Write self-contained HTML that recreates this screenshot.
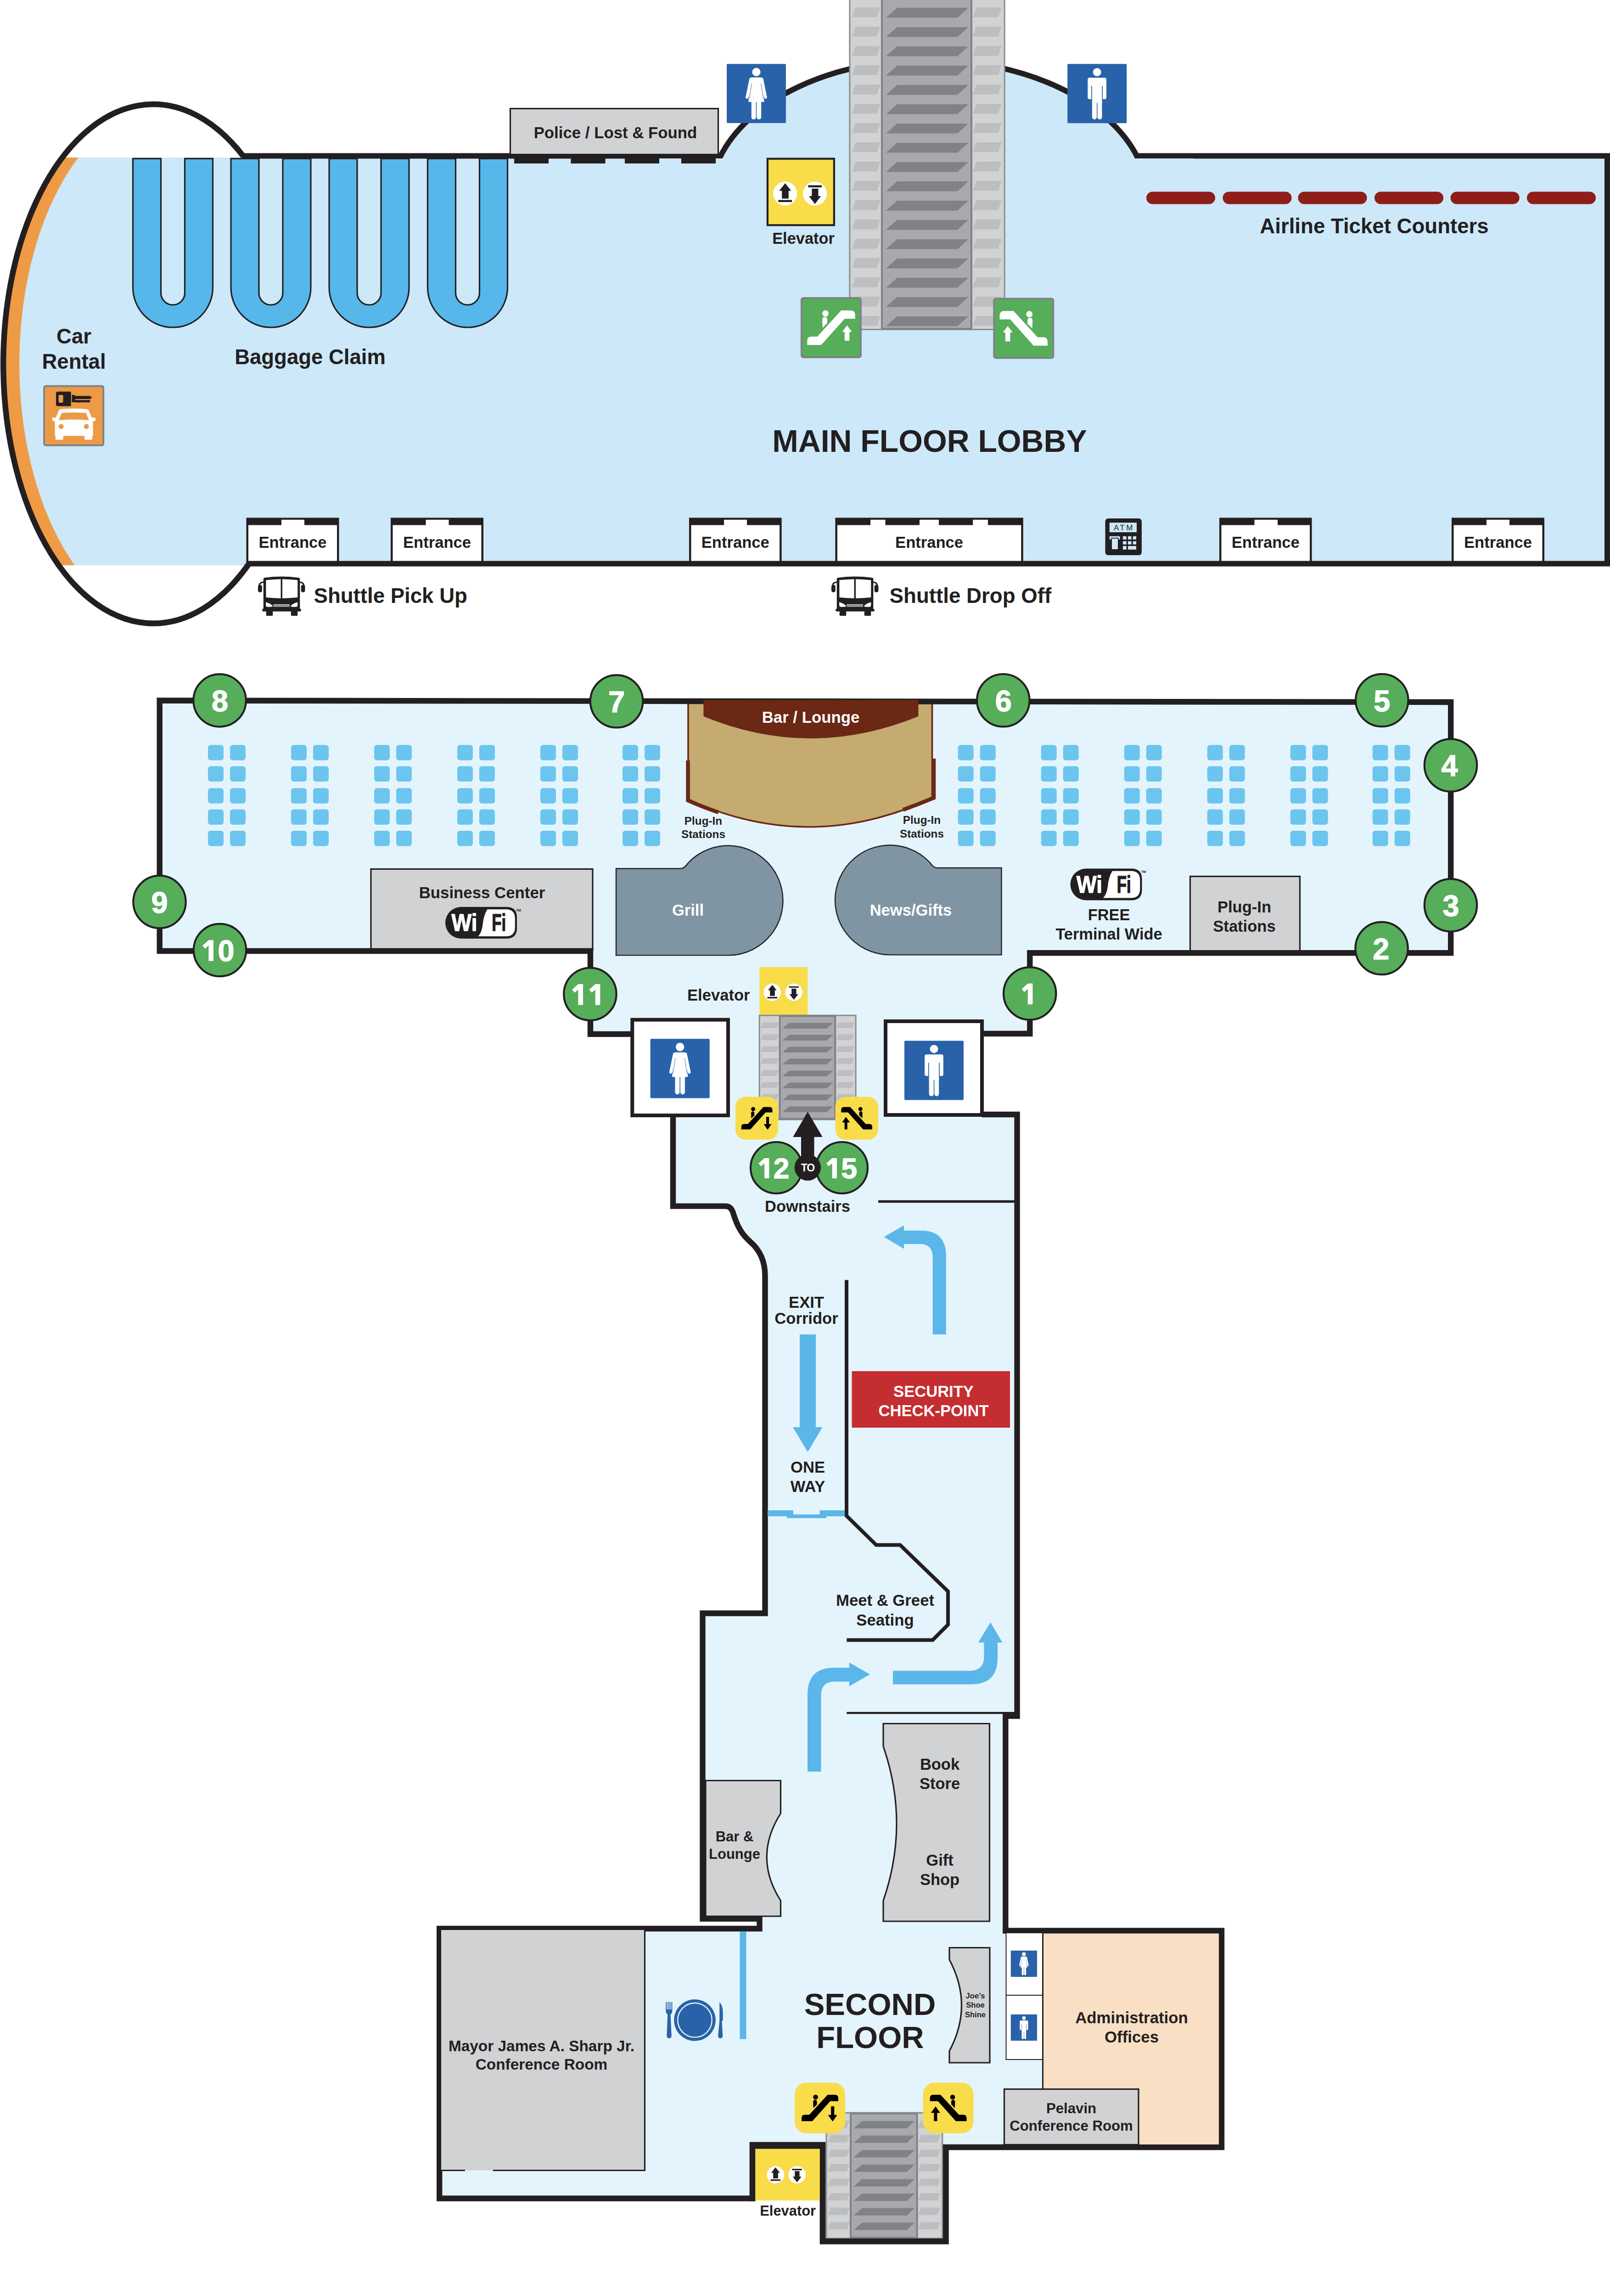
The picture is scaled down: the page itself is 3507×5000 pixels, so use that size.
<!DOCTYPE html>
<html><head><meta charset="utf-8"><title>Terminal Map</title>
<style>
html,body{margin:0;padding:0;background:#fff;}
body{width:3507px;height:5000px;overflow:hidden;}
svg{display:block;}
text{font-family:"Liberation Sans",sans-serif;font-weight:bold;}
</style></head><body>
<svg width="3507" height="5000" viewBox="0 0 3507 5000">
<defs>
<g id="woman">
<rect width="100" height="100" rx="1.6" fill="#2962a8"/>
<circle cx="50" cy="13.7" r="7.1" fill="#fff"/>
<path d="M43,22.8 H57 Q59.6,22.8 60.2,25.2 L63.3,64.2 H36.7 L39.8,25.2 Q40.4,22.8 43,22.8Z" fill="#fff"/>
<path d="M40.6,25.6 L34.3,56.4 M59.4,25.6 L65.7,56.4" stroke="#fff" stroke-width="4.7" stroke-linecap="round" fill="none"/>
<path d="M42.1,33 L38.2,58.5 M57.9,33 L61.8,58.5" stroke="#2962a8" stroke-width="0.7" fill="none"/>
<rect x="41.7" y="60" width="7.7" height="33.8" rx="3.8" fill="#fff"/>
<rect x="50.6" y="60" width="7.7" height="33.8" rx="3.8" fill="#fff"/>
<rect x="41.7" y="60" width="16.6" height="4.2" fill="#fff"/>
</g>
<g id="man">
<rect width="100" height="100" rx="1.6" fill="#2962a8"/>
<circle cx="50" cy="13.9" r="6.9" fill="#fff"/>
<rect x="34.2" y="23.2" width="31.6" height="36.4" rx="3.1" fill="#fff"/>
<rect x="41.6" y="50" width="16.7" height="16" fill="#fff"/>
<rect x="40.3" y="37.1" width="1.3" height="23.5" fill="#2962a8"/>
<rect x="58.3" y="37.1" width="1.3" height="23.5" fill="#2962a8"/>
<rect x="41.6" y="58" width="7.9" height="35.7" rx="3.9" fill="#fff"/>
<rect x="50.7" y="58" width="7.6" height="35.7" rx="3.8" fill="#fff"/>
</g>
<g id="escglyph"><path d="M66.5,21.7 H82 Q89.3,21.7 89.3,29 V35.4 H72.1 L33.8,78.3 H10.8 V71.5 Q10.8,64.5 18,64.5 H27.3 Z"/><circle cx="40.7" cy="26.8" r="5.2"/><path d="M35.5,37 Q35.5,32.7 39.6,32.7 Q43.7,32.7 43.7,37 V42.5 L35.9,50.3 Z"/></g>
<path id="arrUpG" d="M76.1,46.2 L84.1,56.8 H80 V71.4 H72.1 V56.8 H68 Z"/>
<path id="arrDnY" d="M72,46.8 H78.4 V63.8 H84.3 L75.2,76.9 L66,63.8 H72 Z"/>
<path id="arrUpY" d="M75.2,46.8 L84.3,59.7 H78.4 V76.2 H72 V59.7 H66 Z"/>
<g id="escGreenL"><rect x="1.5" y="1.5" width="97" height="97" rx="3" fill="#56ad5a" stroke="#808285" stroke-width="3"/>
<g fill="#fff"><use href="#escglyph"/><use href="#arrUpG"/></g></g>
<g id="escGreenR"><rect x="1.5" y="1.5" width="97" height="97" rx="3" fill="#56ad5a" stroke="#808285" stroke-width="3"/>
<g fill="#fff" transform="translate(100,0) scale(-1,1)"><use href="#escglyph"/><use href="#arrUpG"/></g></g>
<g id="escYelDn"><rect width="100" height="100" rx="23" fill="#f8dc4a"/>
<g fill="#000"><use href="#escglyph" transform="translate(50,50) scale(0.925) translate(-50,-50)"/><use href="#arrDnY"/></g></g>
<g id="escYelUp"><rect width="100" height="100" rx="23" fill="#f8dc4a"/>
<g fill="#000" transform="translate(100,0) scale(-1,1)"><use href="#escglyph" transform="translate(50,50) scale(0.925) translate(-50,-50)"/><use href="#arrUpY"/></g></g>
<g id="elevArrows">
<circle cx="-32.5" cy="0" r="26" fill="#fff"/><circle cx="32.5" cy="0" r="26" fill="#fff"/>
<path d="M-32.3,-22.5 L-19.2,-6 H-24.8 V11 H-39.4 V-6 H-45.4 Z M-47.3,14 H-17.5 V18.4 H-47.3 Z" fill="#231f20"/>
<path d="M17.8,-18 H47.3 V-13.6 H17.8 Z M25.7,-10.9 H39.9 V5.5 H45.8 L32.5,22.7 L19.4,5.5 H25.7 Z" fill="#231f20"/>
</g>
<g id="bus">
<path d="M11.8,5.5 Q11.8,3.2 15,2.7 Q51.5,-2.2 88,2.7 Q91.3,3.2 91.3,5.5 V70 Q94,71 94,73.5 Q94,76.3 90.5,76.3 H12.5 Q9,76.3 9,73.5 Q9,71 11.8,70 Z" fill="#231f20"/>
<path d="M17.4,8 Q33,6.3 49.6,5.9 V47.6 Q33,47.3 17.4,45.6 Z M53,5.9 Q70,6.3 86.3,8 V45.6 Q70,47.3 53,47.6 Z" fill="#fff"/>
<rect x="17.8" y="74" width="14.4" height="11.6" rx="1.5" fill="#231f20"/>
<rect x="71.8" y="74" width="14.4" height="11.6" rx="1.5" fill="#231f20"/>
<path d="M17,57.5 Q16.5,62 18,66 Q25,66.8 31.5,65.8 Q32.5,64.5 31,63 Q25,58 17,56.2 Z" fill="#fff"/>
<path d="M86.3,57.5 Q86.8,62 85.3,66 Q78.3,66.8 71.8,65.8 Q70.8,64.5 72.3,63 Q78.3,58 86.3,56.2 Z" fill="#fff"/>
<path d="M33.3,61.3 H69 M33.3,63.4 H69 M33.3,65.5 H69" stroke="#fff" stroke-width="1.1"/>
<path d="M12,12.5 Q2.5,13 2.3,22" stroke="#231f20" stroke-width="3" fill="none"/>
<rect x="0" y="18.4" width="8.8" height="16" rx="4" fill="#231f20"/>
<path d="M91,12.5 Q100,13 100.2,22" stroke="#231f20" stroke-width="3" fill="none"/>
<rect x="93.7" y="18.4" width="8.8" height="16" rx="4" fill="#231f20"/>
</g>
<g id="wifi">
<path d="M34.5,0 H133 Q156,0 156,23 V46 Q156,69 133,69 H34.5 A34.5,34.5 0 0 1 34.5,0 Z" fill="#231f20"/>
<path d="M91.5,5.2 H132 Q151.8,5.2 151.8,25 V44.3 Q151.8,64.1 132,64.1 H71.5 Q79.5,55 81.3,40 Q83.3,18 91.5,5.2 Z" fill="#fff"/>
<text x="13.6" y="52.2" font-size="52" fill="#fff" stroke="#fff" stroke-width="1.6" stroke-linejoin="round" text-anchor="start" textLength="56" lengthAdjust="spacingAndGlyphs">Wi</text>
<text x="101.3" y="52.2" font-size="52" fill="#231f20" stroke="#231f20" stroke-width="1.6" stroke-linejoin="round" text-anchor="start" textLength="31" lengthAdjust="spacingAndGlyphs">Fi</text>
<text x="154" y="9.5" font-size="7.5" fill="#231f20" text-anchor="start">TM</text>
</g>
</defs>
<clipPath id="wallclip"><path d="M0,0 H3507 V1300 H0 Z M1400,345 V400 H2600 V345 Z" clip-rule="evenodd"/></clipPath>
<clipPath id="band"><rect x="0" y="343" width="700" height="888"/></clipPath>
<g clip-path="url(#band)"><ellipse cx="333.8" cy="792.5" rx="326.7" ry="565.2" fill="#ef9b45"/><ellipse cx="368.8" cy="792.5" rx="326.7" ry="565.2" fill="#cce8f9"/></g>
<rect x="368.8" y="343" width="3132.2" height="884.5" fill="#cce8f9"/>
<path d="M1568,343 A472.5,302.7 0 0 1 2019,130.3 A480.7,302.7 0 0 1 2478,343 Z" fill="#cce8f9"/>
<path d="M289.5,345.3 V626 A87,87 0 0 0 463.5,626 V345.3 H402.5 V638 A26,26 0 0 1 350.5,638 V345.3 Z" fill="#55b7ea" stroke="#231f20" stroke-width="3.2"/>
<path d="M503,345.3 V626 A87,87 0 0 0 677,626 V345.3 H616 V638 A26,26 0 0 1 564,638 V345.3 Z" fill="#55b7ea" stroke="#231f20" stroke-width="3.2"/>
<path d="M717,345.3 V626 A87,87 0 0 0 891,626 V345.3 H830 V638 A26,26 0 0 1 778,638 V345.3 Z" fill="#55b7ea" stroke="#231f20" stroke-width="3.2"/>
<path d="M931.5,345.3 V626 A87,87 0 0 0 1105.5,626 V345.3 H1044.5 V638 A26,26 0 0 1 992.5,638 V345.3 Z" fill="#55b7ea" stroke="#231f20" stroke-width="3.2"/>
<path d="M529.5,339.6 A326.7,565.2 0 1 0 542.4,1227.5" fill="none" stroke="#231f20" stroke-width="12.5"/>
<path d="M526,339.6 H1569 M1563,353 L1568,343 A472.5,302.7 0 0 1 2019,130.3 A480.7,302.7 0 0 1 2478,343 L2483,353 M2475,339.6 H3501 V1227.5 H540" fill="none" stroke="#231f20" stroke-width="12" stroke-linejoin="miter" clip-path="url(#wallclip)"/>
<rect x="1111.5" y="236.5" width="453" height="100" fill="#d1d2d4" stroke="#231f20" stroke-width="3.2"/>
<rect x="1120" y="344" width="75" height="12" fill="#231f20"/>
<rect x="1243.5" y="344" width="75" height="12" fill="#231f20"/>
<rect x="1361" y="344" width="75" height="12" fill="#231f20"/>
<rect x="1484" y="344" width="75" height="12" fill="#231f20"/>
<text x="1340.5" y="300.5" font-size="34.8" fill="#231f20" text-anchor="middle" >Police / Lost &amp; Found</text>
<rect x="1850.9" y="-6" width="337.2999999999997" height="723.5" fill="#d1d2d4" stroke="#8a8c8e" stroke-width="3"/>
<rect x="1921" y="-4.5" width="195" height="720.5" fill="#a7a9ac" stroke="#808285" stroke-width="4"/>
<path d="M1929.8,38.4 L1954.2,17.0 H2109.2 L2085.8,38.4 Z" fill="#808285"/>
<path d="M1855.5,37.4 L1863.7,16.0 H1917.8 L1910.3,37.4 Z" fill="#bcbec0"/>
<path d="M2118.9,37.4 L2126.7,16.0 H2181.8 L2174.3,37.4 Z" fill="#bcbec0"/>
<path d="M1929.8,80.4 L1954.2,59.0 H2109.2 L2085.8,80.4 Z" fill="#808285"/>
<path d="M1855.5,79.4 L1863.7,58.0 H1917.8 L1910.3,79.4 Z" fill="#bcbec0"/>
<path d="M2118.9,79.4 L2126.7,58.0 H2181.8 L2174.3,79.4 Z" fill="#bcbec0"/>
<path d="M1929.8,122.4 L1954.2,101.0 H2109.2 L2085.8,122.4 Z" fill="#808285"/>
<path d="M1855.5,121.4 L1863.7,100.0 H1917.8 L1910.3,121.4 Z" fill="#bcbec0"/>
<path d="M2118.9,121.4 L2126.7,100.0 H2181.8 L2174.3,121.4 Z" fill="#bcbec0"/>
<path d="M1929.8,164.4 L1954.2,143.0 H2109.2 L2085.8,164.4 Z" fill="#808285"/>
<path d="M1855.5,163.4 L1863.7,142.0 H1917.8 L1910.3,163.4 Z" fill="#bcbec0"/>
<path d="M2118.9,163.4 L2126.7,142.0 H2181.8 L2174.3,163.4 Z" fill="#bcbec0"/>
<path d="M1929.8,206.4 L1954.2,185.0 H2109.2 L2085.8,206.4 Z" fill="#808285"/>
<path d="M1855.5,205.4 L1863.7,184.0 H1917.8 L1910.3,205.4 Z" fill="#bcbec0"/>
<path d="M2118.9,205.4 L2126.7,184.0 H2181.8 L2174.3,205.4 Z" fill="#bcbec0"/>
<path d="M1929.8,248.4 L1954.2,227.0 H2109.2 L2085.8,248.4 Z" fill="#808285"/>
<path d="M1855.5,247.4 L1863.7,226.0 H1917.8 L1910.3,247.4 Z" fill="#bcbec0"/>
<path d="M2118.9,247.4 L2126.7,226.0 H2181.8 L2174.3,247.4 Z" fill="#bcbec0"/>
<path d="M1929.8,290.4 L1954.2,269.0 H2109.2 L2085.8,290.4 Z" fill="#808285"/>
<path d="M1855.5,289.4 L1863.7,268.0 H1917.8 L1910.3,289.4 Z" fill="#bcbec0"/>
<path d="M2118.9,289.4 L2126.7,268.0 H2181.8 L2174.3,289.4 Z" fill="#bcbec0"/>
<path d="M1929.8,332.4 L1954.2,311.0 H2109.2 L2085.8,332.4 Z" fill="#808285"/>
<path d="M1855.5,331.4 L1863.7,310.0 H1917.8 L1910.3,331.4 Z" fill="#bcbec0"/>
<path d="M2118.9,331.4 L2126.7,310.0 H2181.8 L2174.3,331.4 Z" fill="#bcbec0"/>
<path d="M1929.8,374.4 L1954.2,353.0 H2109.2 L2085.8,374.4 Z" fill="#808285"/>
<path d="M1855.5,373.4 L1863.7,352.0 H1917.8 L1910.3,373.4 Z" fill="#bcbec0"/>
<path d="M2118.9,373.4 L2126.7,352.0 H2181.8 L2174.3,373.4 Z" fill="#bcbec0"/>
<path d="M1929.8,416.4 L1954.2,395.0 H2109.2 L2085.8,416.4 Z" fill="#808285"/>
<path d="M1855.5,415.4 L1863.7,394.0 H1917.8 L1910.3,415.4 Z" fill="#bcbec0"/>
<path d="M2118.9,415.4 L2126.7,394.0 H2181.8 L2174.3,415.4 Z" fill="#bcbec0"/>
<path d="M1929.8,458.4 L1954.2,437.0 H2109.2 L2085.8,458.4 Z" fill="#808285"/>
<path d="M1855.5,457.4 L1863.7,436.0 H1917.8 L1910.3,457.4 Z" fill="#bcbec0"/>
<path d="M2118.9,457.4 L2126.7,436.0 H2181.8 L2174.3,457.4 Z" fill="#bcbec0"/>
<path d="M1929.8,500.4 L1954.2,479.0 H2109.2 L2085.8,500.4 Z" fill="#808285"/>
<path d="M1855.5,499.4 L1863.7,478.0 H1917.8 L1910.3,499.4 Z" fill="#bcbec0"/>
<path d="M2118.9,499.4 L2126.7,478.0 H2181.8 L2174.3,499.4 Z" fill="#bcbec0"/>
<path d="M1929.8,542.4 L1954.2,521.0 H2109.2 L2085.8,542.4 Z" fill="#808285"/>
<path d="M1855.5,541.4 L1863.7,520.0 H1917.8 L1910.3,541.4 Z" fill="#bcbec0"/>
<path d="M2118.9,541.4 L2126.7,520.0 H2181.8 L2174.3,541.4 Z" fill="#bcbec0"/>
<path d="M1929.8,584.4 L1954.2,563.0 H2109.2 L2085.8,584.4 Z" fill="#808285"/>
<path d="M1855.5,583.4 L1863.7,562.0 H1917.8 L1910.3,583.4 Z" fill="#bcbec0"/>
<path d="M2118.9,583.4 L2126.7,562.0 H2181.8 L2174.3,583.4 Z" fill="#bcbec0"/>
<path d="M1929.8,626.4 L1954.2,605.0 H2109.2 L2085.8,626.4 Z" fill="#808285"/>
<path d="M1855.5,625.4 L1863.7,604.0 H1917.8 L1910.3,625.4 Z" fill="#bcbec0"/>
<path d="M2118.9,625.4 L2126.7,604.0 H2181.8 L2174.3,625.4 Z" fill="#bcbec0"/>
<path d="M1929.8,668.4 L1954.2,647.0 H2109.2 L2085.8,668.4 Z" fill="#808285"/>
<path d="M1855.5,667.4 L1863.7,646.0 H1917.8 L1910.3,667.4 Z" fill="#bcbec0"/>
<path d="M2118.9,667.4 L2126.7,646.0 H2181.8 L2174.3,667.4 Z" fill="#bcbec0"/>
<path d="M1929.8,710.4 L1954.2,689.0 H2109.2 L2085.8,710.4 Z" fill="#808285"/>
<path d="M1855.5,709.4 L1863.7,688.0 H1917.8 L1910.3,709.4 Z" fill="#bcbec0"/>
<path d="M2118.9,709.4 L2126.7,688.0 H2181.8 L2174.3,709.4 Z" fill="#bcbec0"/>
<use href="#woman" transform="translate(1583,139.2) scale(1.289)"/>
<use href="#man" transform="translate(2325.2,139.2) scale(1.29)"/>
<rect x="1671.9" y="345.7" width="145" height="144.6" fill="#f8dc4a" stroke="#231f20" stroke-width="4.2"/>
<use href="#elevArrows" transform="translate(1742.6,421.6)"/>
<text x="1750" y="531" font-size="34.4" fill="#231f20" text-anchor="middle" >Elevator</text>
<use href="#escGreenL" transform="translate(1743.9,647.1) scale(1.33)"/>
<use href="#escGreenR" transform="translate(2163.3,648.5) scale(1.33)"/>
<rect x="2497" y="417.4" width="150" height="27" rx="13.5" fill="#8f1d19"/>
<rect x="2663.5" y="417.4" width="150" height="27" rx="13.5" fill="#8f1d19"/>
<rect x="2827.5" y="417.4" width="150" height="27" rx="13.5" fill="#8f1d19"/>
<rect x="2994" y="417.4" width="150" height="27" rx="13.5" fill="#8f1d19"/>
<rect x="3159.6" y="417.4" width="150" height="27" rx="13.5" fill="#8f1d19"/>
<rect x="3326" y="417.4" width="150" height="27" rx="13.5" fill="#8f1d19"/>
<text x="2993.5" y="508" font-size="45.6" fill="#231f20" text-anchor="middle" >Airline Ticket Counters</text>
<rect x="536.5" y="1127.5" width="202.0" height="100.0" fill="#231f20"/>
<rect x="541.0" y="1143.5" width="193.0" height="78.0" fill="#fff"/>
<rect x="613" y="1131.8" width="50" height="14" fill="#fff"/>
<text x="637.5" y="1193" font-size="34.6" fill="#231f20" text-anchor="middle" >Entrance</text>
<rect x="851" y="1127.5" width="202" height="100.0" fill="#231f20"/>
<rect x="855.5" y="1143.5" width="193" height="78.0" fill="#fff"/>
<rect x="927.5" y="1131.8" width="50.0" height="14" fill="#fff"/>
<text x="952.0" y="1193" font-size="34.6" fill="#231f20" text-anchor="middle" >Entrance</text>
<rect x="1501" y="1127.5" width="201.5999999999999" height="100.0" fill="#231f20"/>
<rect x="1505.5" y="1143.5" width="192.5999999999999" height="78.0" fill="#fff"/>
<rect x="1577" y="1131.8" width="50" height="14" fill="#fff"/>
<text x="1601.8" y="1193" font-size="34.6" fill="#231f20" text-anchor="middle" >Entrance</text>
<rect x="1819.4" y="1127.5" width="409.4000000000001" height="100.0" fill="#231f20"/>
<rect x="1823.9" y="1143.5" width="400.4000000000001" height="78.0" fill="#fff"/>
<rect x="1896" y="1131.8" width="32.5" height="14" fill="#fff"/>
<rect x="2003" y="1131.8" width="42" height="14" fill="#fff"/>
<rect x="2119.2" y="1131.8" width="32.80000000000018" height="14" fill="#fff"/>
<text x="2024.1000000000001" y="1193" font-size="34.6" fill="#231f20" text-anchor="middle" >Entrance</text>
<rect x="2656" y="1127.5" width="201.5" height="100.0" fill="#231f20"/>
<rect x="2660.5" y="1143.5" width="192.5" height="78.0" fill="#fff"/>
<rect x="2732.5" y="1131.8" width="50.5" height="14" fill="#fff"/>
<text x="2756.75" y="1193" font-size="34.6" fill="#231f20" text-anchor="middle" >Entrance</text>
<rect x="3162" y="1127.5" width="202" height="100.0" fill="#231f20"/>
<rect x="3166.5" y="1143.5" width="193" height="78.0" fill="#fff"/>
<rect x="3238" y="1131.8" width="50" height="14" fill="#fff"/>
<text x="3263.0" y="1193" font-size="34.6" fill="#231f20" text-anchor="middle" >Entrance</text>
<g transform="translate(2407.5,1129)">
<rect width="79.4" height="80.1" rx="6.5" fill="#231f20"/>
<rect x="9.3" y="9.2" width="59.2" height="20.8" fill="#cce8f9"/>
<text x="40.8" y="25.7" font-size="17" fill="#231f20" text-anchor="middle" style="font-weight:normal" letter-spacing="3.4">ATM</text>
<path d="M9.3,38.8 H32.1 V45.8 H29.2 V43.6 Q29.2,42 27.6,42 H14.3 Q12.7,42 12.7,43.6 V45.8 H9.3 Z" fill="#cce8f9"/>
<rect x="14.5" y="43.8" width="13" height="23.2" fill="#cce8f9"/>
<g fill="#cce8f9">
<rect x="38.4" y="38.8" width="7.8" height="7"/><rect x="49.5" y="38.8" width="7.5" height="7"/><rect x="60.4" y="38.8" width="7.1" height="7"/>
<rect x="38.4" y="49.6" width="7.8" height="7"/><rect x="49.5" y="49.6" width="7.5" height="7"/><rect x="60.4" y="49.6" width="7.1" height="7"/>
<rect x="38.4" y="60" width="7.8" height="7.8"/><rect x="49.5" y="60" width="18" height="7.8"/>
</g></g>
<text x="161" y="748" font-size="45.5" fill="#231f20" text-anchor="middle" >Car</text>
<text x="161" y="803" font-size="45.5" fill="#231f20" text-anchor="middle" >Rental</text>
<g transform="translate(94.2,838.8) scale(1.33)">
<rect x="1.5" y="1.5" width="97" height="97" rx="2.5" fill="#ec9a45" stroke="#808285" stroke-width="3"/>
<path d="M24,10.5 H44 Q45.5,10.5 45.5,12 V33 Q45.5,34.4 44,34.4 H24 Q20.9,34.4 20.9,31.4 V13.5 Q20.9,10.5 24,10.5 Z M27,15.9 H30.8 Q32.6,15.9 32.6,17.7 V26.9 Q32.6,28.7 30.8,28.7 H27 Q25.2,28.7 25.2,26.9 V17.7 Q25.2,15.9 27,15.9 Z" fill="#231f20" fill-rule="evenodd"/>
<path d="M46.9,16 H51 L52.5,17.6 H76 Q79.1,18.5 79.1,20.2 Q79.1,22 76,22.8 H52.5 V24.4 H77.5 L75.5,28.4 H72.8 L71.8,27.2 L70.8,28.4 H68.3 L67.3,27.2 L66.3,28.4 H63.8 L62.8,27.2 L61.8,28.4 H57 L52.5,27.9 H46.9 Z" fill="#231f20"/>
<path d="M28.5,39.2 Q50,37.6 71.5,39.2 Q73.8,39.5 74.7,41.5 L79.3,52.9 H83.5 Q85.5,52.9 85.5,54.9 V57 Q85.5,58.9 83.5,58.9 H81.5 V83.1 H80.3 V89.4 H67.6 V83.1 H32.6 V89.4 H20.1 V83.1 H19.1 V58.9 H16.7 Q14.7,58.9 14.7,57 V54.9 Q14.7,52.9 16.7,52.9 H20.7 L25.4,41.5 Q26.2,39.5 28.5,39.2 Z" fill="#fff"/>
<path d="M30.2,45.6 Q50,43.8 70.3,45.6 L74.7,57.3 Q50,55 25.4,57.3 Z" fill="#ec9a45"/>
<circle cx="29.3" cy="67.6" r="4.1" fill="#ec9a45"/><circle cx="70.7" cy="67.6" r="4.1" fill="#ec9a45"/>
</g>
<text x="675.5" y="792.5" font-size="45.5" fill="#231f20" text-anchor="middle" >Baggage Claim</text>
<text x="2025" y="984" font-size="67.8" fill="#231f20" text-anchor="middle" >MAIN FLOOR LOBBY</text>
<use href="#bus" transform="translate(562,1255.3)"/>
<text x="683.5" y="1312.5" font-size="45.6" fill="#231f20" text-anchor="start" >Shuttle Pick Up</text>
<use href="#bus" transform="translate(1811,1255.3)"/>
<text x="1937.5" y="1313" font-size="45.7" fill="#231f20" text-anchor="start" >Shuttle Drop Off</text>
<path d="M347.7,1525.5 L3160.2,1529 V2075.2 H2243.3 V2251 H2143 V2427 H2215.5 V3737 H2190.3 V4204.5 H2661 V4676 H2060.3 V4881 H1792 V4671 H1639 V4787.5 H957.2 V4200 H1654.5 V4178.5 H1530.5 V3513.2 H1666.5 V2778 C1666.5,2745 1655,2722 1634,2704 C1617,2689 1606,2672 1596.5,2640 Q1592,2626.6 1580,2626.6 H1466 V2427 H1373 V2252 H1286 V2071 H347.7 Z" fill="#e4f4fd"/>
<g fill="#6cc5ef">
<rect x="453.0" y="1622.3" width="34" height="33.5" rx="6"/>
<rect x="453.0" y="1668.4" width="34" height="33.5" rx="6"/>
<rect x="453.0" y="1716.3" width="34" height="33.5" rx="6"/>
<rect x="453.0" y="1762.6" width="34" height="33.5" rx="6"/>
<rect x="453.0" y="1808.9" width="34" height="33.5" rx="6"/>
<rect x="501.0" y="1622.3" width="34" height="33.5" rx="6"/>
<rect x="501.0" y="1668.4" width="34" height="33.5" rx="6"/>
<rect x="501.0" y="1716.3" width="34" height="33.5" rx="6"/>
<rect x="501.0" y="1762.6" width="34" height="33.5" rx="6"/>
<rect x="501.0" y="1808.9" width="34" height="33.5" rx="6"/>
<rect x="634.0" y="1622.3" width="34" height="33.5" rx="6"/>
<rect x="634.0" y="1668.4" width="34" height="33.5" rx="6"/>
<rect x="634.0" y="1716.3" width="34" height="33.5" rx="6"/>
<rect x="634.0" y="1762.6" width="34" height="33.5" rx="6"/>
<rect x="634.0" y="1808.9" width="34" height="33.5" rx="6"/>
<rect x="682.0" y="1622.3" width="34" height="33.5" rx="6"/>
<rect x="682.0" y="1668.4" width="34" height="33.5" rx="6"/>
<rect x="682.0" y="1716.3" width="34" height="33.5" rx="6"/>
<rect x="682.0" y="1762.6" width="34" height="33.5" rx="6"/>
<rect x="682.0" y="1808.9" width="34" height="33.5" rx="6"/>
<rect x="815.0" y="1622.3" width="34" height="33.5" rx="6"/>
<rect x="815.0" y="1668.4" width="34" height="33.5" rx="6"/>
<rect x="815.0" y="1716.3" width="34" height="33.5" rx="6"/>
<rect x="815.0" y="1762.6" width="34" height="33.5" rx="6"/>
<rect x="815.0" y="1808.9" width="34" height="33.5" rx="6"/>
<rect x="863.0" y="1622.3" width="34" height="33.5" rx="6"/>
<rect x="863.0" y="1668.4" width="34" height="33.5" rx="6"/>
<rect x="863.0" y="1716.3" width="34" height="33.5" rx="6"/>
<rect x="863.0" y="1762.6" width="34" height="33.5" rx="6"/>
<rect x="863.0" y="1808.9" width="34" height="33.5" rx="6"/>
<rect x="996.0" y="1622.3" width="34" height="33.5" rx="6"/>
<rect x="996.0" y="1668.4" width="34" height="33.5" rx="6"/>
<rect x="996.0" y="1716.3" width="34" height="33.5" rx="6"/>
<rect x="996.0" y="1762.6" width="34" height="33.5" rx="6"/>
<rect x="996.0" y="1808.9" width="34" height="33.5" rx="6"/>
<rect x="1044.0" y="1622.3" width="34" height="33.5" rx="6"/>
<rect x="1044.0" y="1668.4" width="34" height="33.5" rx="6"/>
<rect x="1044.0" y="1716.3" width="34" height="33.5" rx="6"/>
<rect x="1044.0" y="1762.6" width="34" height="33.5" rx="6"/>
<rect x="1044.0" y="1808.9" width="34" height="33.5" rx="6"/>
<rect x="1177.0" y="1622.3" width="34" height="33.5" rx="6"/>
<rect x="1177.0" y="1668.4" width="34" height="33.5" rx="6"/>
<rect x="1177.0" y="1716.3" width="34" height="33.5" rx="6"/>
<rect x="1177.0" y="1762.6" width="34" height="33.5" rx="6"/>
<rect x="1177.0" y="1808.9" width="34" height="33.5" rx="6"/>
<rect x="1225.0" y="1622.3" width="34" height="33.5" rx="6"/>
<rect x="1225.0" y="1668.4" width="34" height="33.5" rx="6"/>
<rect x="1225.0" y="1716.3" width="34" height="33.5" rx="6"/>
<rect x="1225.0" y="1762.6" width="34" height="33.5" rx="6"/>
<rect x="1225.0" y="1808.9" width="34" height="33.5" rx="6"/>
<rect x="1356.0" y="1622.3" width="34" height="33.5" rx="6"/>
<rect x="1356.0" y="1668.4" width="34" height="33.5" rx="6"/>
<rect x="1356.0" y="1716.3" width="34" height="33.5" rx="6"/>
<rect x="1356.0" y="1762.6" width="34" height="33.5" rx="6"/>
<rect x="1356.0" y="1808.9" width="34" height="33.5" rx="6"/>
<rect x="1404.0" y="1622.3" width="34" height="33.5" rx="6"/>
<rect x="1404.0" y="1668.4" width="34" height="33.5" rx="6"/>
<rect x="1404.0" y="1716.3" width="34" height="33.5" rx="6"/>
<rect x="1404.0" y="1762.6" width="34" height="33.5" rx="6"/>
<rect x="1404.0" y="1808.9" width="34" height="33.5" rx="6"/>
<rect x="2086.7" y="1622.3" width="34" height="33.5" rx="6"/>
<rect x="2086.7" y="1668.4" width="34" height="33.5" rx="6"/>
<rect x="2086.7" y="1716.3" width="34" height="33.5" rx="6"/>
<rect x="2086.7" y="1762.6" width="34" height="33.5" rx="6"/>
<rect x="2086.7" y="1808.9" width="34" height="33.5" rx="6"/>
<rect x="2134.7" y="1622.3" width="34" height="33.5" rx="6"/>
<rect x="2134.7" y="1668.4" width="34" height="33.5" rx="6"/>
<rect x="2134.7" y="1716.3" width="34" height="33.5" rx="6"/>
<rect x="2134.7" y="1762.6" width="34" height="33.5" rx="6"/>
<rect x="2134.7" y="1808.9" width="34" height="33.5" rx="6"/>
<rect x="2267.7" y="1622.3" width="34" height="33.5" rx="6"/>
<rect x="2267.7" y="1668.4" width="34" height="33.5" rx="6"/>
<rect x="2267.7" y="1716.3" width="34" height="33.5" rx="6"/>
<rect x="2267.7" y="1762.6" width="34" height="33.5" rx="6"/>
<rect x="2267.7" y="1808.9" width="34" height="33.5" rx="6"/>
<rect x="2315.7" y="1622.3" width="34" height="33.5" rx="6"/>
<rect x="2315.7" y="1668.4" width="34" height="33.5" rx="6"/>
<rect x="2315.7" y="1716.3" width="34" height="33.5" rx="6"/>
<rect x="2315.7" y="1762.6" width="34" height="33.5" rx="6"/>
<rect x="2315.7" y="1808.9" width="34" height="33.5" rx="6"/>
<rect x="2448.7" y="1622.3" width="34" height="33.5" rx="6"/>
<rect x="2448.7" y="1668.4" width="34" height="33.5" rx="6"/>
<rect x="2448.7" y="1716.3" width="34" height="33.5" rx="6"/>
<rect x="2448.7" y="1762.6" width="34" height="33.5" rx="6"/>
<rect x="2448.7" y="1808.9" width="34" height="33.5" rx="6"/>
<rect x="2496.7" y="1622.3" width="34" height="33.5" rx="6"/>
<rect x="2496.7" y="1668.4" width="34" height="33.5" rx="6"/>
<rect x="2496.7" y="1716.3" width="34" height="33.5" rx="6"/>
<rect x="2496.7" y="1762.6" width="34" height="33.5" rx="6"/>
<rect x="2496.7" y="1808.9" width="34" height="33.5" rx="6"/>
<rect x="2629.7" y="1622.3" width="34" height="33.5" rx="6"/>
<rect x="2629.7" y="1668.4" width="34" height="33.5" rx="6"/>
<rect x="2629.7" y="1716.3" width="34" height="33.5" rx="6"/>
<rect x="2629.7" y="1762.6" width="34" height="33.5" rx="6"/>
<rect x="2629.7" y="1808.9" width="34" height="33.5" rx="6"/>
<rect x="2677.7" y="1622.3" width="34" height="33.5" rx="6"/>
<rect x="2677.7" y="1668.4" width="34" height="33.5" rx="6"/>
<rect x="2677.7" y="1716.3" width="34" height="33.5" rx="6"/>
<rect x="2677.7" y="1762.6" width="34" height="33.5" rx="6"/>
<rect x="2677.7" y="1808.9" width="34" height="33.5" rx="6"/>
<rect x="2810.7" y="1622.3" width="34" height="33.5" rx="6"/>
<rect x="2810.7" y="1668.4" width="34" height="33.5" rx="6"/>
<rect x="2810.7" y="1716.3" width="34" height="33.5" rx="6"/>
<rect x="2810.7" y="1762.6" width="34" height="33.5" rx="6"/>
<rect x="2810.7" y="1808.9" width="34" height="33.5" rx="6"/>
<rect x="2858.7" y="1622.3" width="34" height="33.5" rx="6"/>
<rect x="2858.7" y="1668.4" width="34" height="33.5" rx="6"/>
<rect x="2858.7" y="1716.3" width="34" height="33.5" rx="6"/>
<rect x="2858.7" y="1762.6" width="34" height="33.5" rx="6"/>
<rect x="2858.7" y="1808.9" width="34" height="33.5" rx="6"/>
<rect x="2989.7" y="1622.3" width="34" height="33.5" rx="6"/>
<rect x="2989.7" y="1668.4" width="34" height="33.5" rx="6"/>
<rect x="2989.7" y="1716.3" width="34" height="33.5" rx="6"/>
<rect x="2989.7" y="1762.6" width="34" height="33.5" rx="6"/>
<rect x="2989.7" y="1808.9" width="34" height="33.5" rx="6"/>
<rect x="3037.7" y="1622.3" width="34" height="33.5" rx="6"/>
<rect x="3037.7" y="1668.4" width="34" height="33.5" rx="6"/>
<rect x="3037.7" y="1716.3" width="34" height="33.5" rx="6"/>
<rect x="3037.7" y="1762.6" width="34" height="33.5" rx="6"/>
<rect x="3037.7" y="1808.9" width="34" height="33.5" rx="6"/>
</g>
<path d="M1499,1530 H2030.5 V1738 Q1765,1862 1499,1741 Z" fill="#c5ab70" stroke="#6b2815" stroke-width="3.6"/>
<path d="M1498.6,1656 V1743 Q1532,1758 1565,1769" fill="none" stroke="#6b2815" stroke-width="8.5"/>
<path d="M2034,1652 V1737.5 Q2000,1752 1967,1763.5" fill="none" stroke="#6b2815" stroke-width="8.5"/>
<text x="1532" y="1795.5" font-size="24.3" fill="#231f20" text-anchor="middle" >Plug-In</text>
<text x="1532" y="1825.0" font-size="24.3" fill="#231f20" text-anchor="middle" >Stations</text>
<text x="2008" y="1794" font-size="24.3" fill="#231f20" text-anchor="middle" >Plug-In</text>
<text x="2008" y="1823.5" font-size="24.3" fill="#231f20" text-anchor="middle" >Stations</text>
<path d="M1342,1891.5 H1482 Q1491,1891.5 1498.3,1880 A119.4,119.4 0 1 1 1586,2080.4 H1342 Z" fill="#7f95a3" stroke="#231f20" stroke-width="2.4"/>
<path d="M2181.5,1890 H2042 Q2033,1890 2025.7,1878.5 A119.4,119.4 0 1 0 1938,2079.4 H2181.5 Z" fill="#7f95a3" stroke="#231f20" stroke-width="2.4"/>
<text x="1498.5" y="1993.5" font-size="34.6" fill="#fff" text-anchor="middle" >Grill</text>
<text x="1984" y="1993.5" font-size="34.6" fill="#fff" text-anchor="middle" >News/Gifts</text>
<rect x="808" y="1892.5" width="483" height="176" fill="#d1d2d4" stroke="#231f20" stroke-width="3.2"/>
<text x="1050" y="1956" font-size="34.8" fill="#231f20" text-anchor="middle" >Business Center</text>
<use href="#wifi" transform="translate(970,1975)"/>
<use href="#wifi" transform="translate(2331.5,1891.5)"/>
<text x="2415.5" y="2004" font-size="34.4" fill="#231f20" text-anchor="middle" >FREE</text>
<text x="2415.5" y="2045.7" font-size="34.4" fill="#231f20" text-anchor="middle" >Terminal Wide</text>
<rect x="2592.5" y="1908.5" width="239" height="163" fill="#d1d2d4" stroke="#231f20" stroke-width="3.2"/>
<text x="2710.5" y="1987" font-size="34.6" fill="#231f20" text-anchor="middle" >Plug-In</text>
<text x="2710.5" y="2029" font-size="34.6" fill="#231f20" text-anchor="middle" >Stations</text>
<rect x="1654.3" y="2106" width="105" height="105.5" fill="#f8dc4a"/>
<use href="#elevArrows" transform="translate(1705.7,2160.9) scale(0.723)"/>
<text x="1633.5" y="2178.6" font-size="34.6" fill="#231f20" text-anchor="end" >Elevator</text>
<rect x="1654.2" y="2211.2" width="209.89999999999986" height="226.80000000000018" fill="#d1d2d4" stroke="#8a8c8e" stroke-width="3"/>
<rect x="1698.6" y="2212.7" width="120.60000000000014" height="223.80000000000018" fill="#a7a9ac" stroke="#808285" stroke-width="4"/>
<path d="M1704.0,2239.9 L1719.1,2227.4 H1815.0 L1800.5,2239.9 Z" fill="#808285"/>
<path d="M1656.6,2238.9 L1661.9,2226.4 H1696.5 L1691.7,2238.9 Z" fill="#bcbec0"/>
<path d="M1821.0,2238.9 L1826.1,2226.4 H1860.6 L1855.7,2238.9 Z" fill="#bcbec0"/>
<path d="M1704.0,2265.9 L1719.1,2253.4 H1815.0 L1800.5,2265.9 Z" fill="#808285"/>
<path d="M1656.6,2264.9 L1661.9,2252.4 H1696.5 L1691.7,2264.9 Z" fill="#bcbec0"/>
<path d="M1821.0,2264.9 L1826.1,2252.4 H1860.6 L1855.7,2264.9 Z" fill="#bcbec0"/>
<path d="M1704.0,2291.9 L1719.1,2279.4 H1815.0 L1800.5,2291.9 Z" fill="#808285"/>
<path d="M1656.6,2290.9 L1661.9,2278.4 H1696.5 L1691.7,2290.9 Z" fill="#bcbec0"/>
<path d="M1821.0,2290.9 L1826.1,2278.4 H1860.6 L1855.7,2290.9 Z" fill="#bcbec0"/>
<path d="M1704.0,2317.9 L1719.1,2305.4 H1815.0 L1800.5,2317.9 Z" fill="#808285"/>
<path d="M1656.6,2316.9 L1661.9,2304.4 H1696.5 L1691.7,2316.9 Z" fill="#bcbec0"/>
<path d="M1821.0,2316.9 L1826.1,2304.4 H1860.6 L1855.7,2316.9 Z" fill="#bcbec0"/>
<path d="M1704.0,2343.9 L1719.1,2331.4 H1815.0 L1800.5,2343.9 Z" fill="#808285"/>
<path d="M1656.6,2342.9 L1661.9,2330.4 H1696.5 L1691.7,2342.9 Z" fill="#bcbec0"/>
<path d="M1821.0,2342.9 L1826.1,2330.4 H1860.6 L1855.7,2342.9 Z" fill="#bcbec0"/>
<path d="M1704.0,2369.9 L1719.1,2357.4 H1815.0 L1800.5,2369.9 Z" fill="#808285"/>
<path d="M1656.6,2368.9 L1661.9,2356.4 H1696.5 L1691.7,2368.9 Z" fill="#bcbec0"/>
<path d="M1821.0,2368.9 L1826.1,2356.4 H1860.6 L1855.7,2368.9 Z" fill="#bcbec0"/>
<path d="M1704.0,2395.9 L1719.1,2383.4 H1815.0 L1800.5,2395.9 Z" fill="#808285"/>
<path d="M1656.6,2394.9 L1661.9,2382.4 H1696.5 L1691.7,2394.9 Z" fill="#bcbec0"/>
<path d="M1821.0,2394.9 L1826.1,2382.4 H1860.6 L1855.7,2394.9 Z" fill="#bcbec0"/>
<path d="M1704.0,2421.9 L1719.1,2409.4 H1815.0 L1800.5,2421.9 Z" fill="#808285"/>
<path d="M1656.6,2420.9 L1661.9,2408.4 H1696.5 L1691.7,2420.9 Z" fill="#bcbec0"/>
<path d="M1821.0,2420.9 L1826.1,2408.4 H1860.6 L1855.7,2420.9 Z" fill="#bcbec0"/>
<rect x="1377.3" y="2220.7" width="208.7" height="208.3" fill="#fff" stroke="#231f20" stroke-width="8"/>
<rect x="1929" y="2224" width="210" height="204" fill="#fff" stroke="#231f20" stroke-width="8"/>
<use href="#woman" transform="translate(1416.6,2262.2) scale(1.292)"/>
<use href="#man" transform="translate(1970,2266.4) scale(1.29)"/>
<path d="M2139,2427 H2215.5 V3737 H2190.3 V4204.5 H2661 V4676 H2060.3 V4881 H1792 V4671 H1639 V4787.5 H957.2 V4200 H1654.5 V4178.5 H1530.5 V3513.2 H1666.5 V2778 C1666.5,2745 1655,2722 1634,2704 C1617,2689 1606,2672 1596.5,2640 Q1592,2626.6 1580,2626.6 H1466 V2431 M1375,2252 H1286 V2071 H347.7 V1525.5 L3160.2,1529 V2075.2 H2243.3 V2251 H2141" fill="none" stroke="#231f20" stroke-width="12.4" stroke-linejoin="miter"/>
<path d="M1532.4,1524.3 H2000.4 V1560 Q1765,1656 1532.4,1560 Z" fill="#6b2815"/>
<text x="1766" y="1574" font-size="34.8" fill="#fff" text-anchor="middle" >Bar / Lounge</text>
<circle cx="478.6" cy="1525.4" r="57.2" fill="#56ad5a" stroke="#231f20" stroke-width="4.2"/>
<text x="479.1" y="1549.0600000000002" font-size="65" fill="#fff" text-anchor="middle" stroke="#fff" stroke-width="1.4" stroke-linejoin="round">8</text>
<circle cx="1343.1" cy="1527.3" r="57.2" fill="#56ad5a" stroke="#231f20" stroke-width="4.2"/>
<text x="1343.1" y="1550.96" font-size="65" fill="#fff" text-anchor="middle" stroke="#fff" stroke-width="1.4" stroke-linejoin="round">7</text>
<circle cx="2185.3" cy="1525.2" r="57.2" fill="#56ad5a" stroke="#231f20" stroke-width="4.2"/>
<text x="2185.9" y="1548.8600000000001" font-size="65" fill="#fff" text-anchor="middle" stroke="#fff" stroke-width="1.4" stroke-linejoin="round">6</text>
<circle cx="3010.3" cy="1525" r="57.2" fill="#56ad5a" stroke="#231f20" stroke-width="4.2"/>
<text x="3010.3" y="1548.66" font-size="65" fill="#fff" text-anchor="middle" stroke="#fff" stroke-width="1.4" stroke-linejoin="round">5</text>
<circle cx="3160" cy="1666.5" r="57.2" fill="#56ad5a" stroke="#231f20" stroke-width="4.2"/>
<text x="3157.5" y="1690.16" font-size="65" fill="#fff" text-anchor="middle" stroke="#fff" stroke-width="1.4" stroke-linejoin="round">4</text>
<circle cx="3160" cy="1971.3" r="57.2" fill="#56ad5a" stroke="#231f20" stroke-width="4.2"/>
<text x="3160.5" y="1994.96" font-size="65" fill="#fff" text-anchor="middle" stroke="#fff" stroke-width="1.4" stroke-linejoin="round">3</text>
<circle cx="3009.6" cy="2065" r="57.2" fill="#56ad5a" stroke="#231f20" stroke-width="4.2"/>
<text x="3008.4" y="2088.66" font-size="65" fill="#fff" text-anchor="middle" stroke="#fff" stroke-width="1.4" stroke-linejoin="round">2</text>
<circle cx="2243.2" cy="2163.5" r="57.2" fill="#56ad5a" stroke="#231f20" stroke-width="4.2"/>
<path transform="translate(2225.6,2141.8) scale(1.000)" d="M13.4,0 H23.8 V45.4 H13.2 V11.6 L5.6,18.6 L0,12 Z" fill="#fff"/>
<circle cx="347.5" cy="1964.1" r="57.2" fill="#56ad5a" stroke="#231f20" stroke-width="4.2"/>
<text x="347.5" y="1987.76" font-size="65" fill="#fff" text-anchor="middle" stroke="#fff" stroke-width="1.4" stroke-linejoin="round">9</text>
<circle cx="479" cy="2069" r="57.2" fill="#56ad5a" stroke="#231f20" stroke-width="4.2"/>
<path transform="translate(441.2,2047.3) scale(1.000)" d="M13.4,0 H23.8 V45.4 H13.2 V11.6 L5.6,18.6 L0,12 Z" fill="#fff"/>
<text x="474.59999999999997" y="2092.66" font-size="65" fill="#fff" text-anchor="start" stroke="#fff" stroke-width="1.4" stroke-linejoin="round">0</text>
<circle cx="1285.4" cy="2164.8" r="57.2" fill="#56ad5a" stroke="#231f20" stroke-width="4.2"/>
<path transform="translate(1246.2,2143.1) scale(1.000)" d="M13.4,0 H23.8 V45.4 H13.2 V11.6 L5.6,18.6 L0,12 Z" fill="#fff"/>
<path transform="translate(1283.5,2143.1) scale(1.000)" d="M13.4,0 H23.8 V45.4 H13.2 V11.6 L5.6,18.6 L0,12 Z" fill="#fff"/>
<use href="#escYelDn" transform="translate(1602,2388.6) scale(0.932)"/>
<use href="#escYelUp" transform="translate(1819.6,2388.6) scale(0.932)"/>
<path d="M1759.4,2421 L1791.6,2476 H1773.5 V2540 H1745 V2476 H1727.2 Z" fill="#231f20"/>
<circle cx="1691" cy="2543" r="56" fill="#56ad5a" stroke="#231f20" stroke-width="4.2"/>
<path transform="translate(1652.3,2521.9) scale(0.969)" d="M13.4,0 H23.8 V45.4 H13.2 V11.6 L5.6,18.6 L0,12 Z" fill="#fff"/>
<text x="1684.595" y="2565.932" font-size="63" fill="#fff" text-anchor="start" stroke="#fff" stroke-width="1.4" stroke-linejoin="round">2</text>
<circle cx="1834" cy="2543" r="56" fill="#56ad5a" stroke="#231f20" stroke-width="4.2"/>
<path transform="translate(1799.9,2521.9) scale(0.969)" d="M13.4,0 H23.8 V45.4 H13.2 V11.6 L5.6,18.6 L0,12 Z" fill="#fff"/>
<text x="1832.3525000000002" y="2565.932" font-size="63" fill="#fff" text-anchor="start" stroke="#fff" stroke-width="1.4" stroke-linejoin="round">5</text>
<circle cx="1759.4" cy="2542.5" r="28.6" fill="#231f20"/>
<text x="1759.4" y="2551" font-size="23" fill="#fff" text-anchor="middle" letter-spacing="-1">TO</text>
<text x="1759" y="2638.7" font-size="34.5" fill="#231f20" text-anchor="middle" >Downstairs</text>
<path d="M1913,2616.5 H2210" stroke="#231f20" stroke-width="5.5" fill="none"/>
<path d="M1844.3,3730.2 H2210" stroke="#231f20" stroke-width="4.6" fill="none"/>
<path d="M1844,2787.6 V3301 L1908.7,3364.6 H1960.7 L2065,3465.5 V3538 L2031.7,3571.4 H1844.4" stroke="#231f20" stroke-width="8" fill="none" stroke-linejoin="miter"/>
<path d="M2031.7,2906 V2738 Q2031.7,2709 2003,2709 H1969 V2719.4 L1925.5,2693.7 L1969,2668.5 V2679.7 H2006 Q2060.7,2679.7 2060.7,2735 V2906 Z" fill="#5bb6e9"/>
<path d="M1742,2906 H1777 V3108 H1791.5 L1759.5,3162 L1727,3108 H1742 Z" fill="#5bb6e9"/>
<path d="M1759,3858 V3690 Q1759,3631.8 1817,3631.8 H1850 V3620.6 L1895,3646.3 L1850,3672 V3662 H1818 Q1788.5,3662 1788.5,3692 V3858 Z" fill="#5bb6e9"/>
<path d="M1945,3638.5 H2112 Q2143.5,3638.5 2143.5,3607 V3577 H2131 L2157.4,3533 L2183.5,3577 H2173 V3610 Q2173,3668 2115,3668 H1945 Z" fill="#5bb6e9"/>
<text x="1756.5" y="2848" font-size="34.6" fill="#231f20" text-anchor="middle" >EXIT</text>
<text x="1756.5" y="2882.6" font-size="34.6" fill="#231f20" text-anchor="middle" >Corridor</text>
<text x="1759.5" y="3207" font-size="34.6" fill="#231f20" text-anchor="middle" >ONE</text>
<text x="1759.5" y="3249" font-size="34.6" fill="#231f20" text-anchor="middle" >WAY</text>
<rect x="1855.6" y="2986" width="344.4" height="123" fill="#c52e30"/>
<text x="2033.5" y="3042" font-size="34.6" fill="#fff" text-anchor="middle" >SECURITY</text>
<text x="2033.5" y="3084" font-size="34.6" fill="#fff" text-anchor="middle" >CHECK-POINT</text>
<path d="M1672,3289 H1728 V3298 H1785.5 V3289 H1840 V3302 H1800 V3306 H1714 V3302 H1672 Z" fill="#5bb6e9"/>
<text x="1928" y="3497" font-size="34.7" fill="#231f20" text-anchor="middle" >Meet &amp; Greet</text>
<text x="1928" y="3539.6" font-size="34.7" fill="#231f20" text-anchor="middle" >Seating</text>
<path d="M1924,3753.5 H2155.5 V4184 H1924 V4139 Q1982,3971 1924,3803 Z" fill="#d1d2d4" stroke="#231f20" stroke-width="3.2"/>
<text x="2047" y="3853.7" font-size="34.5" fill="#231f20" text-anchor="middle" >Book</text>
<text x="2047" y="3895.6" font-size="34.5" fill="#231f20" text-anchor="middle" >Store</text>
<text x="2047" y="4063" font-size="34.5" fill="#231f20" text-anchor="middle" >Gift</text>
<text x="2047" y="4105" font-size="34.5" fill="#231f20" text-anchor="middle" >Shop</text>
<path d="M1537,3877.5 H1700.5 V3949 Q1640,4044 1700.5,4139 V4173 H1537 Z" fill="#d1d2d4" stroke="#231f20" stroke-width="3.2"/>
<text x="1600" y="4010" font-size="31" fill="#231f20" text-anchor="middle" >Bar &amp;</text>
<text x="1600" y="4048" font-size="31" fill="#231f20" text-anchor="middle" >Lounge</text>
<rect x="961" y="4203" width="442" height="523.5" fill="#d1d2d4"/>
<path d="M1013,4726.5 H961 M1074,4726.5 H1404.5 V4203" fill="none" stroke="#231f20" stroke-width="3.2"/>
<text x="1179.5" y="4466.5" font-size="33.4" fill="#231f20" text-anchor="middle" >Mayor James A. Sharp Jr.</text>
<text x="1179.5" y="4507" font-size="33.4" fill="#231f20" text-anchor="middle" >Conference Room</text>
<rect x="1611.5" y="4206" width="14" height="234.5" fill="#5bb6e9"/>
<g fill="#2962a8">
<circle cx="1513.5" cy="4399.3" r="45.3"/>
<circle cx="1513.5" cy="4399.3" r="37.3" fill="none" stroke="#e4f4fd" stroke-width="2.4"/>
<path d="M1450.3,4359.8 H1452.3 V4376 H1454.4 V4359.8 H1456.4 V4376 H1458.4 V4359.8 H1460.4 V4376 H1462.4 V4359.8 H1464.4 V4379 Q1464.4,4384 1460.6,4387 L1462.7,4433 Q1462.7,4438.8 1457.5,4438.8 Q1452.4,4438.8 1452.4,4433 L1454.3,4387 Q1450.3,4384 1450.3,4379 Z"/>
<path d="M1567.3,4359.8 Q1575,4368 1574.7,4385 V4400.5 H1572.3 L1574.2,4433 Q1574.2,4438.8 1569.2,4438.8 Q1564.2,4438.8 1564.2,4433 L1567.3,4400 Z"/>
</g>
<text x="1895" y="4387.6" font-size="67" fill="#231f20" text-anchor="middle" >SECOND</text>
<text x="1895.5" y="4460" font-size="67" fill="#231f20" text-anchor="middle" >FLOOR</text>
<path d="M2068,4241.5 H2156 V4492 H2068 V4466.5 Q2121,4367 2068,4267.5 Z" fill="#d1d2d4" stroke="#231f20" stroke-width="3.2"/>
<text x="2124.5" y="4351.5" font-size="16.6" fill="#231f20" text-anchor="middle" >Joe’s</text>
<text x="2124.5" y="4372" font-size="16.6" fill="#231f20" text-anchor="middle" >Shoe</text>
<text x="2124.5" y="4392.5" font-size="16.6" fill="#231f20" text-anchor="middle" >Shine</text>
<rect x="2191.5" y="4209" width="79.5" height="276" fill="#fff" stroke="#231f20" stroke-width="2"/>
<path d="M2191.5,4345 H2271" stroke="#231f20" stroke-width="2"/>
<use href="#woman" transform="translate(2201.8,4247.8) scale(0.572)"/>
<use href="#man" transform="translate(2201.8,4386.8) scale(0.572)"/>
<rect x="2271.5" y="4209" width="385" height="462.5" fill="#f9dfc4" stroke="#231f20" stroke-width="3"/>
<text x="2465" y="4405.6" font-size="34.8" fill="#231f20" text-anchor="middle" >Administration</text>
<text x="2465" y="4447.8" font-size="34.8" fill="#231f20" text-anchor="middle" >Offices</text>
<rect x="2187.5" y="4549.5" width="292.5" height="121" fill="#d1d2d4" stroke="#231f20" stroke-width="3.2"/>
<text x="2333.5" y="4602" font-size="31.2" fill="#231f20" text-anchor="middle" >Pelavin</text>
<text x="2333.5" y="4640" font-size="31.2" fill="#231f20" text-anchor="middle" >Conference Room</text>
<rect x="1800.0" y="4601" width="252.80000000000018" height="273.5" fill="#d1d2d4" stroke="#8a8c8e" stroke-width="3"/>
<rect x="1853" y="4602.5" width="144.5999999999999" height="270.5" fill="#a7a9ac" stroke="#808285" stroke-width="4"/>
<path d="M1859.5,4635.0 L1877.6,4619.0 H1992.5 L1975.2,4635.0 Z" fill="#808285"/>
<path d="M1803.1,4634.0 L1809.4,4618.0 H1850.5 L1844.8,4634.0 Z" fill="#bcbec0"/>
<path d="M1999.8,4634.0 L2005.8,4618.0 H2048.3 L2042.6,4634.0 Z" fill="#bcbec0"/>
<path d="M1859.5,4666.6 L1877.6,4650.6 H1992.5 L1975.2,4666.6 Z" fill="#808285"/>
<path d="M1803.1,4665.6 L1809.4,4649.6 H1850.5 L1844.8,4665.6 Z" fill="#bcbec0"/>
<path d="M1999.8,4665.6 L2005.8,4649.6 H2048.3 L2042.6,4665.6 Z" fill="#bcbec0"/>
<path d="M1859.5,4698.2 L1877.6,4682.2 H1992.5 L1975.2,4698.2 Z" fill="#808285"/>
<path d="M1803.1,4697.2 L1809.4,4681.2 H1850.5 L1844.8,4697.2 Z" fill="#bcbec0"/>
<path d="M1999.8,4697.2 L2005.8,4681.2 H2048.3 L2042.6,4697.2 Z" fill="#bcbec0"/>
<path d="M1859.5,4729.8 L1877.6,4713.8 H1992.5 L1975.2,4729.8 Z" fill="#808285"/>
<path d="M1803.1,4728.8 L1809.4,4712.8 H1850.5 L1844.8,4728.8 Z" fill="#bcbec0"/>
<path d="M1999.8,4728.8 L2005.8,4712.8 H2048.3 L2042.6,4728.8 Z" fill="#bcbec0"/>
<path d="M1859.5,4761.4 L1877.6,4745.4 H1992.5 L1975.2,4761.4 Z" fill="#808285"/>
<path d="M1803.1,4760.4 L1809.4,4744.4 H1850.5 L1844.8,4760.4 Z" fill="#bcbec0"/>
<path d="M1999.8,4760.4 L2005.8,4744.4 H2048.3 L2042.6,4760.4 Z" fill="#bcbec0"/>
<path d="M1859.5,4793.0 L1877.6,4777.0 H1992.5 L1975.2,4793.0 Z" fill="#808285"/>
<path d="M1803.1,4792.0 L1809.4,4776.0 H1850.5 L1844.8,4792.0 Z" fill="#bcbec0"/>
<path d="M1999.8,4792.0 L2005.8,4776.0 H2048.3 L2042.6,4792.0 Z" fill="#bcbec0"/>
<path d="M1859.5,4824.6 L1877.6,4808.6 H1992.5 L1975.2,4824.6 Z" fill="#808285"/>
<path d="M1803.1,4823.6 L1809.4,4807.6 H1850.5 L1844.8,4823.6 Z" fill="#bcbec0"/>
<path d="M1999.8,4823.6 L2005.8,4807.6 H2048.3 L2042.6,4823.6 Z" fill="#bcbec0"/>
<path d="M1859.5,4856.2 L1877.6,4840.2 H1992.5 L1975.2,4856.2 Z" fill="#808285"/>
<path d="M1803.1,4855.2 L1809.4,4839.2 H1850.5 L1844.8,4855.2 Z" fill="#bcbec0"/>
<path d="M1999.8,4855.2 L2005.8,4839.2 H2048.3 L2042.6,4855.2 Z" fill="#bcbec0"/>
<rect x="1645" y="4677" width="141" height="115" fill="#f8dc4a"/>
<rect x="1633" y="4665" width="160" height="14.5" fill="#231f20"/>
<use href="#elevArrows" transform="translate(1712.7,4736) scale(0.723)"/>
<text x="1716.2" y="4824.6" font-size="30.9" fill="#231f20" text-anchor="middle" >Elevator</text>
<path d="M2060.3,4670 V4881 H1792 V4665 M1633,4671 H1798 M1639,4665 V4793.7" fill="none" stroke="#231f20" stroke-width="12.4"/>
<use href="#escYelDn" transform="translate(1731,4535.5) scale(1.1)"/>
<use href="#escYelUp" transform="translate(2010.6,4535.5) scale(1.1)"/>
</svg>
</body></html>
